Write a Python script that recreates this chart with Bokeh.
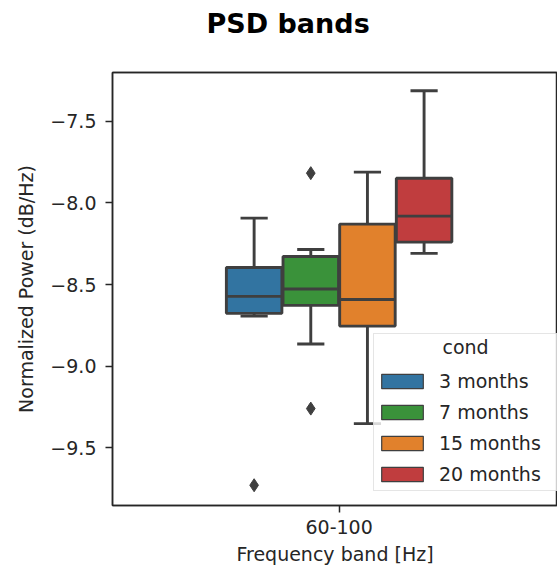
from bokeh.plotting import figure
from bokeh.models import (ColumnDataSource, FixedTicker, CustomJSTickFormatter,
                          Legend, LegendItem, Range1d, LinearAxis)
from bokeh.embed import file_html
from bokeh.resources import INLINE

# ---- data ----
band = ["60-100"]
conds = ["3 months", "7 months", "15 months", "20 months"]
colors = ["#3274a1", "#3a923a", "#e1812c", "#c03d3e"]
whisker_low = [-8.693, -8.864, -9.351, -8.309]
q1 = [-8.676, -8.627, -8.754, -8.240]
median = [-8.572, -8.527, -8.591, -8.081]
q3 = [-8.395, -8.328, -8.130, -7.849]
whisker_high = [-8.093, -8.285, -7.812, -7.314]
outlier_cond = ["3 months", "7 months", "7 months"]
outlier_val = [-9.728, -7.818, -9.259]
yticks = [-9.5, -9.0, -8.5, -8.0, -7.5]

EDGE = "#3f3f3f"
LW = 2.9
FONT = "DejaVu Sans"
TXT = "#262626"

n = len(conds)
group_w = 0.8
box_w = group_w / n
xs = [-group_w / 2 + box_w * (i + 0.5) for i in range(n)]
xpos = dict(zip(conds, xs))

src = ColumnDataSource(dict(
    x=xs, q1=q1, q3=q3, med=median, lo=whisker_low, hi=whisker_high, color=colors,
    bx0=[x - box_w * 0.49 for x in xs], bx1=[x + box_w * 0.49 for x in xs],
    cx0=[x - box_w * 0.24 for x in xs], cx1=[x + box_w * 0.24 for x in xs],
))
out_src = ColumnDataSource(dict(x=[xpos[c] for c in outlier_cond], y=outlier_val))

p = figure(width=557, height=572, output_backend="svg", toolbar_location=None,
           x_range=Range1d(-0.800, 0.771), y_range=Range1d(-9.852, -7.202),
           min_border_left=112, min_border_right=0, min_border_top=0,
           min_border_bottom=67)
p.background_fill_color = "white"
p.border_fill_color = "white"
p.xgrid.visible = False
p.ygrid.visible = False
p.outline_line_color = TXT
p.outline_line_width = 1.5
p.outline_line_alpha = 1

# legend proxies (drawn first, hidden beneath the real boxes)
items = []
for i, (c, col) in enumerate(zip(conds, colors)):
    r = p.vbar(x=[xs[i]], top=[q3[i]], bottom=[q1[i]], width=box_w * 0.9,
               fill_color=col, line_color=EDGE, line_width=1.2)
    items.append(LegendItem(label=c, renderers=[r]))

# whiskers and caps
p.segment(x0="x", x1="x", y0="q3", y1="hi", source=src, line_color=EDGE, line_width=LW)
p.segment(x0="x", x1="x", y0="q1", y1="lo", source=src, line_color=EDGE, line_width=LW)
p.segment(x0="cx0", x1="cx1", y0="hi", y1="hi", source=src, line_color=EDGE, line_width=LW)
p.segment(x0="cx0", x1="cx1", y0="lo", y1="lo", source=src, line_color=EDGE, line_width=LW)
# boxes
p.vbar(x="x", top="q3", bottom="q1", width=box_w * 0.98, source=src,
       fill_color="color", line_color=EDGE, line_width=LW)
# medians
p.segment(x0="bx0", x1="bx1", y0="med", y1="med", source=src, line_color=EDGE, line_width=LW)
# outliers
p.scatter(x="x", y="y", source=out_src, marker="diamond", size=13,
          fill_color=EDGE, line_color=EDGE)

legend = Legend(items=items, location=(261, 14), margin=0, padding=2, spacing=3,
                glyph_width=52, glyph_height=18, label_height=28, label_width=115,
                label_standoff=11, label_text_font=FONT, label_text_font_size="19px",
                label_text_color=TXT, title="\u00a0" * 11 + "cond", title_text_font=FONT,
                title_text_font_size="19px", title_text_font_style="normal",
                title_text_color=TXT, title_standoff=9,
                border_line_color="#cccccc", border_line_width=1.2,
                background_fill_alpha=0.8)
p.add_layout(legend)

# axes
xa = p.below[0]
ya = p.left[0]
for ax in (xa, ya):
    ax.axis_line_color = TXT
    ax.axis_line_width = 1.5
    ax.major_tick_line_color = TXT
    ax.major_tick_line_width = 1.5
    ax.major_tick_out = 7
    ax.major_tick_in = 0
    ax.minor_tick_line_color = None
    ax.major_label_text_font = FONT
    ax.major_label_text_font_size = "19px"
    ax.major_label_text_color = TXT
    ax.axis_label_text_font = FONT
    ax.axis_label_text_font_size = "19px"
    ax.axis_label_text_font_style = "normal"
    ax.axis_label_text_color = TXT

xa.ticker = FixedTicker(ticks=[0])
xa.major_label_overrides = {0: band[0]}
xa.major_label_standoff = 7
xa.axis_label = "Frequency band [Hz]"
xa.axis_label_standoff = 6

ya.ticker = FixedTicker(ticks=yticks)
ya.formatter = CustomJSTickFormatter(
    code="return (tick < 0 ? '\u2212' : '') + Math.abs(tick).toFixed(1);")
ya.major_label_standoff = 9
ya.axis_label = "Normalized Power (dB/Hz)"
ya.axis_label_standoff = 10

# top spine (invisible tick only reserves the space between title and frame)
top_ax = LinearAxis(ticker=FixedTicker(ticks=[0]), axis_line_color=TXT, axis_line_width=1.5,
                    major_tick_out=25, major_tick_in=0, major_tick_line_color=None,
                    minor_tick_line_color=None, major_label_standoff=0,
                    major_label_overrides={0: ""})
p.add_layout(top_ax, "above")

p.title.text = "PSD bands"
p.title.text_font = FONT
p.title.text_font_size = "27px"
p.title.text_font_style = "bold"
p.title.text_color = "black"
p.title.align = "left"
p.title.offset = 94
p.title.vertical_align = "top"
p.title.standoff = 14

open("out.html", "w").write(file_html(p, INLINE))
